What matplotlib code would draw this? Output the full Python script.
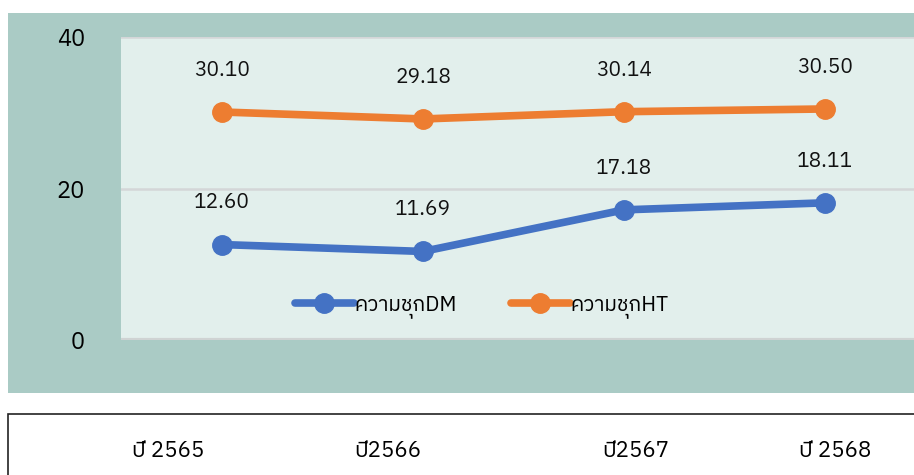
import matplotlib
matplotlib.use('Agg')
import matplotlib.pyplot as plt
from matplotlib import font_manager
from matplotlib.ft2font import FT2Font
from matplotlib.patches import Rectangle

# data
years = ['ปี 2565', 'ปี2566', 'ปี2567', 'ปี 2568']
dm_values = [12.60, 11.69, 17.18, 18.11]
ht_values = [30.10, 29.18, 30.14, 30.50]
series_names = ['ความชุกDM', 'ความชุกHT']


# find a font that can draw Thai
def find_thai_font():
    found = []
    for f in font_manager.fontManager.ttflist:
        try:
            if 0x0E1B in FT2Font(f.fname).get_charmap():
                found.append(f.name)
        except Exception:
            pass
    for name in found:
        if 'Thai' in name:
            return name
    return found[0] if found else 'DejaVu Sans'


thai = find_thai_font()
plt.rcParams['font.family'] = [thai, 'DejaVu Sans']

W, H = 914, 475
fig = plt.figure(figsize=(W / 100, H / 100), dpi=100)
fig.patch.set_facecolor('white')

# teal frame behind the chart
fig.patches.append(Rectangle((8 / W, 1 - 393 / H), (W - 8) / W, 380 / H,
                             transform=fig.transFigure, facecolor='#AACBC5',
                             edgecolor='none', zorder=-2))
# box holding the year labels
fig.patches.append(Rectangle((8 / W, -0.05), 1.0, (1 - 414 / H) + 0.05,
                             transform=fig.transFigure, facecolor='white',
                             edgecolor='#222222', linewidth=1.2, zorder=-2))

ax = fig.add_axes([121 / W, 1 - 340 / H, (W - 121) / W, 303 / H])
ax.set_facecolor('#E2EFEC')
x = list(range(len(years)))
ax.set_xlim((121 - 222) / 201, (W - 222) / 201)
ax.set_ylim(0, 40)
ax.set_yticks([0, 20, 40])
ax.yaxis.grid(True, color='#D4D6D8', linewidth=1.8)
ax.set_axisbelow(True)
for s in ax.spines.values():
    s.set_visible(False)
ax.axhline(0, color='#CFD3D3', linewidth=3, zorder=1)
ax.set_xticks([])
ax.tick_params(axis='y', length=0, pad=26, labelsize=17)

colors = ['#4472C4', '#ED7D31']
for vals, name, c in zip([dm_values, ht_values], series_names, colors):
    ax.plot(x, vals, color=c, linewidth=5.5, marker='o', markersize=14,
            label=name, solid_capstyle='round', zorder=3, clip_on=False)
    for xi, v in zip(x, vals):
        ax.annotate(f'{v:.2f}', (xi, v), xytext=(0, 30), textcoords='offset points',
                    ha='center', va='center', fontsize=15, color='#111111')

ax.legend(loc='center', bbox_to_anchor=((482 - 121) / (W - 121), (340 - 307) / 303),
          ncol=2, frameon=False, fontsize=15, handlelength=2.8,
          handletextpad=0.05, columnspacing=2.6)

# year labels under the chart
label_x = [168, 388, 636, 835]
for lx, t in zip(label_x, years):
    fig.text(lx / W, 1 - 451 / H, t, ha='center', va='center', fontsize=16)

fig.savefig('out.png', dpi=100)
